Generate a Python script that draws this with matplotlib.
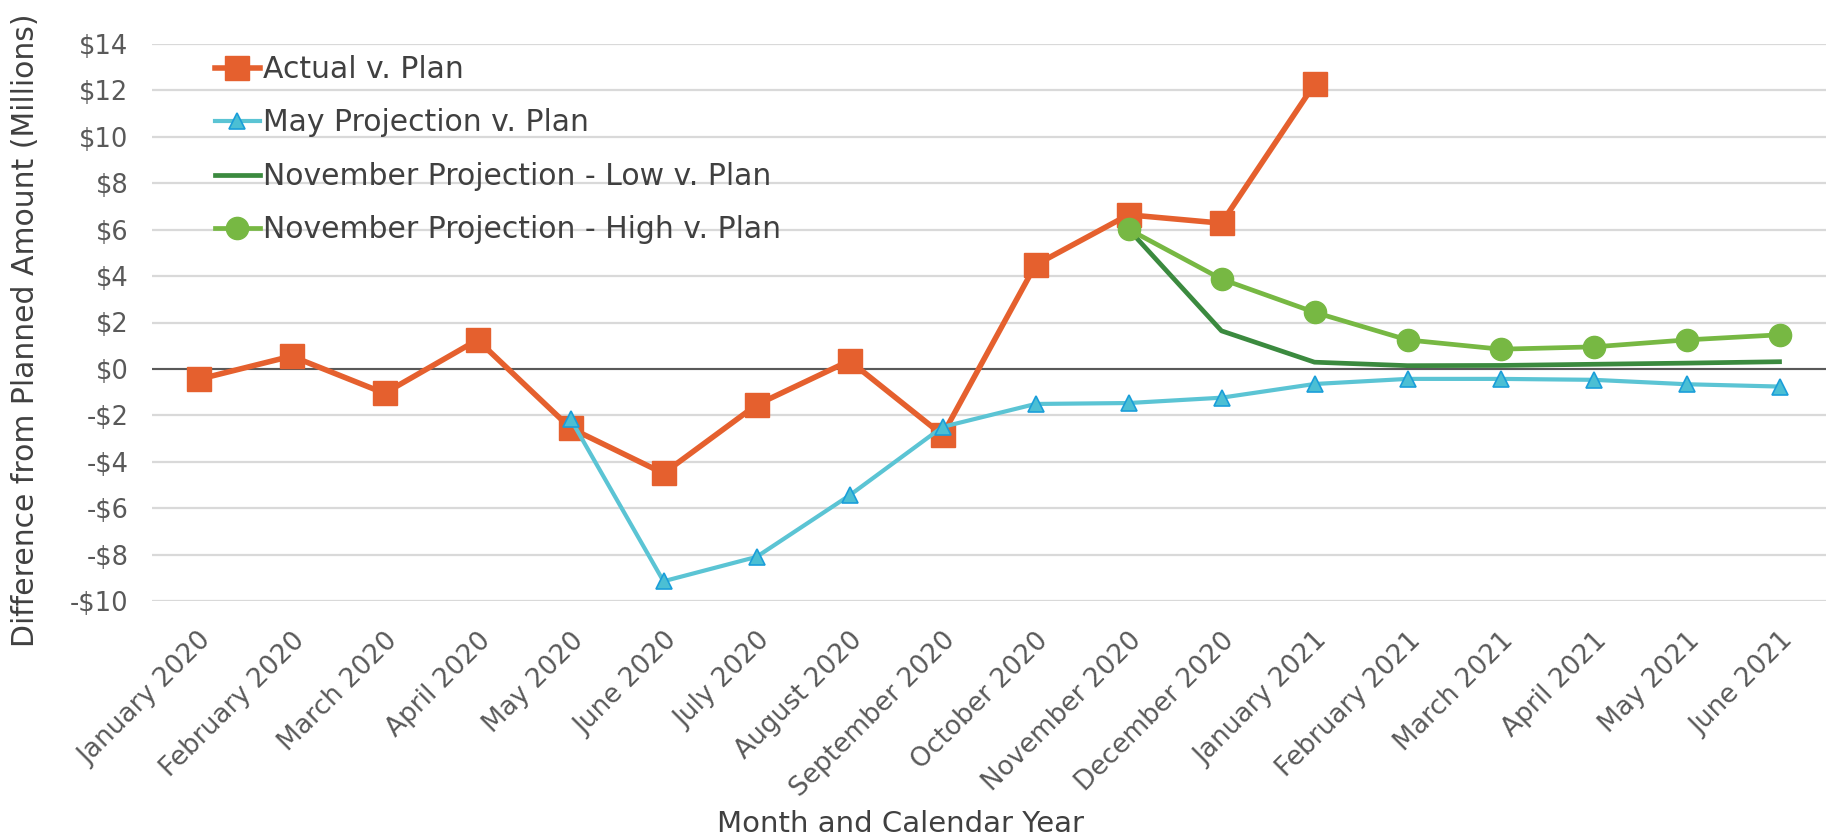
import numpy as np
import matplotlib
matplotlib.use("Agg")
import matplotlib.pyplot as plt

plt.rcParams["font.family"] = ["DejaVu Sans"]

# months on the category axis
months = ["January 2020", "February 2020", "March 2020", "April 2020", "May 2020",
          "June 2020", "July 2020", "August 2020", "September 2020", "October 2020",
          "November 2020", "December 2020", "January 2021", "February 2021",
          "March 2021", "April 2021", "May 2021", "June 2021"]

nan = np.nan
# difference from planned amount, $ millions
actual = [-0.45, 0.55, -1.05, 1.25, -2.55, -4.5, -1.55, 0.35, -2.85, 4.48,
          6.64, 6.28, 12.27, nan, nan, nan, nan, nan]
may_proj = [nan, nan, nan, nan, -2.15, -9.15, -8.1, -5.45, -2.5, -1.51,
            -1.47, -1.24, -0.65, -0.43, -0.43, -0.47, -0.66, -0.76]
nov_low = [nan] * 10 + [6.02, 1.64, 0.29, 0.14, 0.15, 0.2, 0.25, 0.31]
nov_high = [nan] * 10 + [6.02, 3.87, 2.44, 1.25, 0.85, 0.95, 1.25, 1.47]

yticks = list(range(-10, 16, 2))
ytick_labels = [("-$%d" % -v) if v < 0 else ("$%d" % v) for v in yticks]

W, H = 1826, 839
fig = plt.figure(figsize=(W / 100, H / 100), dpi=100)
ax = fig.add_axes([152 / W, 1 - 601 / H, (W - 152) / W, 557 / H])

x = np.arange(len(months))

ax.plot(x, actual, color="#E5602E", lw=4, marker="s", markersize=17,
        label="Actual v. Plan")
ax.plot(x, may_proj, color="#5BC4D4", lw=3, marker="^", markersize=11,
        markerfacecolor="#4BBFD4", markeredgecolor="#1A9ED9", markeredgewidth=1.2,
        label="May Projection v. Plan")
ax.plot(x, nov_low, color="#3B8A3F", lw=3.4, label="November Projection - Low v. Plan")
ax.plot(x, nov_high, color="#77B843", lw=3.4, marker="o", markersize=16,
        label="November Projection - High v. Plan")

ax.axhline(0, color="#595959", lw=1.5, zorder=1)

ax.set_xlim(-0.5, len(months) - 0.5)
ax.set_ylim(-10, 14)
ax.set_yticks(yticks)
ax.set_yticklabels(ytick_labels)
ax.set_xticks(x)
ax.set_xticklabels(months, rotation=45, ha="right", va="top", rotation_mode="anchor")
ax.grid(axis="y", color="#D9D9D9", lw=1.6, zorder=0)
ax.set_axisbelow(True)
for s in ax.spines.values():
    s.set_visible(False)
ax.tick_params(axis="y", length=0, pad=17, labelsize=18.5, labelcolor="#595959")
ax.tick_params(axis="x", length=0, pad=19, labelsize=19, labelcolor="#595959")

fig.text(26 / W, 1 - 330 / H, "Difference from Planned Amount (Millions)",
         rotation=90, ha="center", va="center", fontsize=21.5, color="#404040")
fig.text(900 / W, 1 - 824 / H, "Month and Calendar Year",
         ha="center", va="center", fontsize=21, color="#404040")

ax.legend(loc="upper left", bbox_to_anchor=((215 - 152) / (W - 152), (601 - 55) / 557),
          frameon=False, fontsize=21.5, handlelength=1.5, handletextpad=0.1,
          labelspacing=0.82, borderpad=0, borderaxespad=0, labelcolor="#404040")

fig.savefig("out.png", dpi=100)
